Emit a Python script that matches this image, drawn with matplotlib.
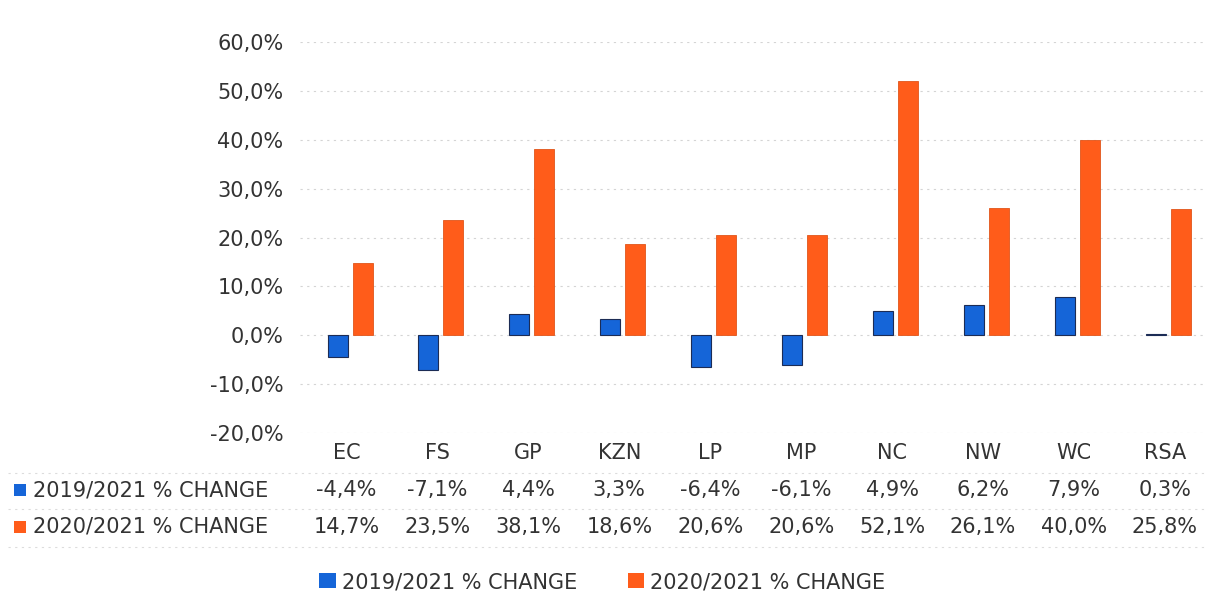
import matplotlib.pyplot as plt
import numpy as np
from matplotlib.lines import Line2D
from matplotlib.patches import Patch
from matplotlib.ticker import FuncFormatter
import matplotlib.transforms as mtransforms

provinces = ["EC", "FS", "GP", "KZN", "LP", "MP", "NC", "NW", "WC", "RSA"]
change_2019 = [-4.4, -7.1, 4.4, 3.3, -6.4, -6.1, 4.9, 6.2, 7.9, 0.3]
change_2020 = [14.7, 23.5, 38.1, 18.6, 20.6, 20.6, 52.1, 26.1, 40.0, 25.8]
series_names = ["2019/2021 % CHANGE", "2020/2021 % CHANGE"]
y_ticks = [-20, -10, 0, 10, 20, 30, 40, 50, 60]

BLUE = "#1565d8"
ORANGE = "#ff5c1a"
TXT = "#333333"
FS = 15


def pct(v):
    # excel style comma decimal
    return f"{v:.1f}%".replace(".", ",")


fig = plt.figure(figsize=(12.05, 5.92), dpi=100)
W, H = 1205.0, 592.0
ax = fig.add_axes([300 / W, 1 - 433 / H, 905 / W, (433 - 42) / H])

x = np.arange(len(provinces))
bw = 0.22
off = 0.1375
ax.bar(x - off, change_2019, bw, color=BLUE, edgecolor="#1c2c55", linewidth=0.8, zorder=3)
ax.bar(x + off, change_2020, bw, color=ORANGE, edgecolor="#e0551a", linewidth=0.6, zorder=3)

ax.set_xlim(-0.55, 9.4)
ax.set_ylim(-20, 60)
ax.set_yticks(y_ticks)
ax.yaxis.set_major_formatter(FuncFormatter(lambda v, p: pct(v)))
ax.tick_params(axis="y", length=0, pad=12, labelsize=FS, labelcolor=TXT)
ax.set_xticks([])
ax.grid(axis="y", color="#d4d4d4", linestyle=(0, (2, 4)), linewidth=0.8, zorder=0)
for s in ax.spines.values():
    s.set_visible(False)

# data table under the plot
trans = mtransforms.blended_transform_factory(ax.transData, fig.transFigure)
row_y = [1 - 453 / H, 1 - 490 / H, 1 - 527 / H]
for i, p in enumerate(provinces):
    ax.text(i - 0.04, row_y[0], p, transform=trans, ha="center", va="center", fontsize=FS, color=TXT)
    ax.text(i - 0.04, row_y[1], pct(change_2019[i]), transform=trans, ha="center", va="center",
            fontsize=FS, color=TXT)
    ax.text(i - 0.04, row_y[2], pct(change_2020[i]), transform=trans, ha="center", va="center",
            fontsize=FS, color=TXT)

for ry, name, col in zip(row_y[1:], series_names, [BLUE, ORANGE]):
    fig.patches.append(plt.Rectangle((14 / W, ry - 6 / H), 12 / W, 12 / H, transform=fig.transFigure,
                                     facecolor=col, edgecolor="none"))
    fig.text(33 / W, ry, name, ha="left", va="center", fontsize=FS, color=TXT)

# faint table lines
for ly in [473, 509, 547]:
    fig.add_artist(Line2D([8 / W, 1.0], [1 - ly / H] * 2, transform=fig.transFigure,
                          color="#dcdcdc", linestyle=(0, (2, 4)), linewidth=0.8))

# legend at the bottom
handles = [Patch(facecolor=BLUE, edgecolor="none"), Patch(facecolor=ORANGE, edgecolor="none")]
fig.legend(handles, series_names, loc="center", bbox_to_anchor=(0.5, 1 - 582 / H), ncol=2,
           frameon=False, fontsize=FS, handlelength=0.8, handleheight=0.7, handletextpad=0.3,
           columnspacing=2.4, labelcolor=TXT)

fig.savefig("out.png", dpi=100)
